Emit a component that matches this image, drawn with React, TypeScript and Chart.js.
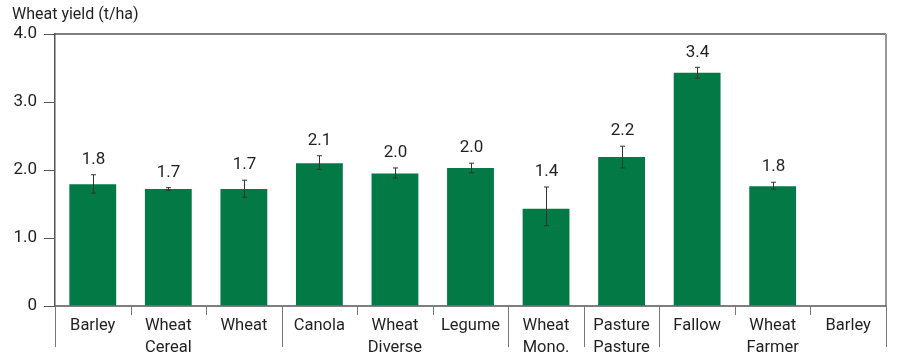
import React, { useEffect, useRef } from "react";
import { Chart, registerables } from "chart.js";

Chart.register(...registerables);

const categories: string[][] = [
  ["Barley"],
  ["Wheat", "Cereal"],
  ["Wheat"],
  ["Canola"],
  ["Wheat", "Diverse"],
  ["Legume"],
  ["Wheat", "Mono."],
  ["Pasture", "Pasture"],
  ["Fallow"],
  ["Wheat", "Farmer"],
  ["Barley"],
];
const yieldValues: (number | null)[] = [1.79, 1.72, 1.72, 2.1, 1.95, 2.03, 1.43, 2.19, 3.43, 1.76, null];
const errorLow: (number | null)[] = [1.66, 1.7, 1.6, 2.01, 1.88, 1.96, 1.18, 2.03, 3.35, 1.72, null];
const errorHigh: (number | null)[] = [1.93, 1.74, 1.85, 2.21, 2.03, 2.1, 1.75, 2.35, 3.51, 1.82, null];
const valueLabels: string[] = ["1.8", "1.7", "1.7", "2.1", "2.0", "2.0", "1.4", "2.2", "3.4", "1.8", ""];
// category boundaries (0..11) that are group breaks (long separators)
const groupBreaks: number[] = [0, 3, 6, 7, 8, 11];
const yTicks: number[] = [0, 1, 2, 3, 4];
const yTickLabels: string[] = ["0", "1.0", "2.0", "3.0", "4.0"];
const titleText = "Wheat yield (t/ha)";

const FONT = "Roboto, 'Liberation Sans', sans-serif";
const GREEN = "#037A45";
const TEXT = "#231f20";

export default function App() {
  const ref = useRef<HTMLCanvasElement | null>(null);
  useEffect(() => {
    document.body.style.margin = "0";
    const canvas = ref.current!;
    const decor = {
      id: "decor",
      afterDraw(chart: any) {
        const ctx = chart.ctx as CanvasRenderingContext2D;
        const x = chart.scales.x;
        const y = chart.scales.y;
        const area = chart.chartArea;
        ctx.save();
        // title
        ctx.fillStyle = TEXT;
        ctx.font = `16px ${FONT}`;
        ctx.textAlign = "left";
        ctx.textBaseline = "middle";
        ctx.fillText(titleText, 12, 15);
        // top line at 4.0 and right border
        ctx.strokeStyle = "#555";
        ctx.lineWidth = 1.5;
        ctx.beginPath();
        ctx.moveTo(area.left, y.getPixelForValue(4));
        ctx.lineTo(area.right, y.getPixelForValue(4));
        ctx.stroke();
        ctx.strokeStyle = "#999";
        ctx.lineWidth = 2;
        ctx.beginPath();
        ctx.moveTo(area.right, y.getPixelForValue(4));
        ctx.lineTo(area.right, y.getPixelForValue(0));
        ctx.stroke();
        // x axis line
        ctx.strokeStyle = "#555";
        ctx.lineWidth = 1.5;
        ctx.beginPath();
        ctx.moveTo(area.left, y.getPixelForValue(0));
        ctx.lineTo(area.right, y.getPixelForValue(0));
        ctx.stroke();
        // separators
        const n = categories.length;
        const step = (area.right - area.left) / n;
        const y0 = y.getPixelForValue(0);
        ctx.strokeStyle = "#777";
        ctx.lineWidth = 1;
        for (let b = 0; b <= n; b++) {
          const px = Math.round(area.left + b * step) + 0.5;
          const long = groupBreaks.includes(b);
          ctx.beginPath();
          ctx.moveTo(px, y0);
          ctx.lineTo(px, y0 + (long ? 41 : 9));
          ctx.stroke();
        }
        // category labels
        ctx.fillStyle = TEXT;
        ctx.font = `16.5px ${FONT}`;
        ctx.textAlign = "center";
        ctx.textBaseline = "middle";
        categories.forEach((lines, i) => {
          const cx = x.getPixelForValue(i);
          lines.forEach((ln, j) => ctx.fillText(ln, cx, y0 + 20 + j * 22));
        });
        // error bars and value labels
        const meta = chart.getDatasetMeta(0);
        meta.data.forEach((bar: any, i: number) => {
          const lo = errorLow[i];
          const hi = errorHigh[i];
          if (lo == null || hi == null) return;
          const cx = Math.round(bar.x) + 0.5;
          const pyLo = y.getPixelForValue(lo);
          const pyHi = y.getPixelForValue(hi);
          ctx.strokeStyle = "#333";
          ctx.lineWidth = 1;
          ctx.beginPath();
          ctx.moveTo(cx, pyLo);
          ctx.lineTo(cx, pyHi);
          ctx.moveTo(cx - 2.5, pyLo);
          ctx.lineTo(cx + 2.5, pyLo);
          ctx.moveTo(cx - 2.5, pyHi);
          ctx.lineTo(cx + 2.5, pyHi);
          ctx.stroke();
          ctx.fillStyle = TEXT;
          ctx.font = `17px ${FONT}`;
          ctx.textAlign = "center";
          ctx.textBaseline = "middle";
          ctx.fillText(valueLabels[i], cx, pyHi - 15);
        });
        ctx.restore();
      },
    };
    const chart = new Chart(canvas, {
      type: "bar",
      data: {
        labels: categories.map((c) => c.join(" ")),
        datasets: [
          {
            data: yieldValues as any,
            backgroundColor: GREEN,
            borderWidth: 0,
            categoryPercentage: 1,
            barPercentage: 0.62,
          },
        ],
      },
      options: {
        responsive: false,
        animation: false,
        devicePixelRatio: 1,
        layout: { padding: { top: 34, right: 14, left: 0, bottom: 0 } },
        plugins: { legend: { display: false }, tooltip: { enabled: false }, title: { display: false } },
        scales: {
          x: {
            grid: { display: false },
            border: { display: false },
            ticks: { display: false },
            afterFit: (s: any) => {
              s.height = 57;
            },
          },
          y: {
            min: 0,
            max: 4,
            afterBuildTicks: (s: any) => {
              s.ticks = yTicks.map((v) => ({ value: v }));
            },
            ticks: {
              callback: (v: any) => yTickLabels[yTicks.indexOf(Number(v))] ?? "",
              color: TEXT,
              font: { family: FONT, size: 17 },
              padding: 7,
            },
            grid: { drawOnChartArea: false, tickLength: 11, color: "#555", lineWidth: 1 },
            border: { display: true, color: "#555", width: 1.5 },
            afterFit: (s: any) => {
              s.width = 55;
            },
          },
        },
      },
      plugins: [decor],
    });
    return () => chart.destroy();
  }, []);
  return <canvas ref={ref} width={900} height={363} style={{ display: "block" }} />;
}
